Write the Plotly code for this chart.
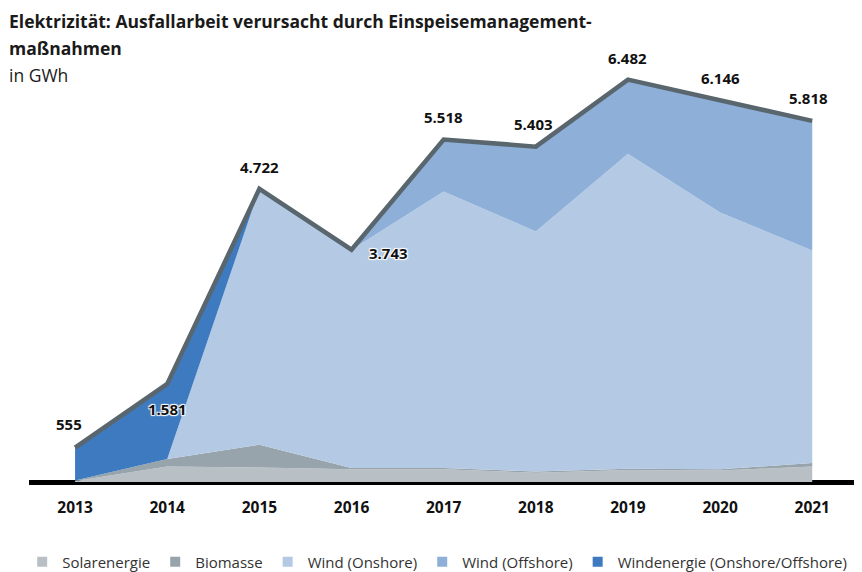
import plotly.graph_objects as go

years = [2013, 2014, 2015, 2016, 2017, 2018, 2019, 2020, 2021]
solar = [15, 250, 235, 205, 205, 150, 195, 185, 250]
biomasse = [10, 120, 365, 20, 20, 20, 20, 20, 55]
wind_onshore = [0, 0, 4122, 3518, 4457, 3867, 5074, 4138, 3426]
wind_offshore = [0, 0, 0, 0, 836, 1366, 1193, 1803, 2087]
wind_gesamt = [530, 1211, 0, 0, 0, 0, 0, 0, 0]
total = [555, 1581, 4722, 3743, 5518, 5403, 6482, 6146, 5818]

series = [
    ("Solarenergie", solar, "#b9c0c5"),
    ("Biomasse", biomasse, "#97a4ab"),
    ("Wind (Onshore)", wind_onshore, "#b4c9e3"),
    ("Wind (Offshore)", wind_offshore, "#8dafd8"),
    ("Windenergie (Onshore/Offshore)", wind_gesamt, "#3e7abf"),
]

# label offsets (x px, y px) relative to the point on the total line
label_offsets = [(-6, 24), (0, -25), (0, 22), (37, -3), (0, 22), (-2, 23), (0, 22), (0, 23), (-4, 23)]

W, H = 854, 564  # page body adds an 8px offset
T, B, L = 40, 90, 21
PH = H - T - B

fig = go.Figure()
for name, vals, col in series:
    fig.add_trace(go.Scatter(
        x=years, y=vals, name=name, mode="lines", stackgroup="one",
        line=dict(width=0, color=col), fillcolor=col, showlegend=False,
        hoverinfo="skip",
    ))
for name, vals, col in series:
    fig.add_trace(go.Scatter(
        x=[None], y=[None], name=name, mode="markers",
        marker=dict(symbol="square", size=10, color=col), showlegend=True,
    ))

fig.add_trace(go.Scatter(
    x=years, y=total, mode="lines", line=dict(color="#59666e", width=4.5),
    showlegend=False, hoverinfo="skip",
))

halo = "1px 1px 1px white, -1px -1px 1px white, 1px -1px 1px white, -1px 1px 1px white"
for yr, v, (dx, dy) in zip(years, total, label_offsets):
    fig.add_annotation(
        x=yr, y=v, text=f"{v:,}".replace(",", "."), showarrow=False,
        xshift=dx, yshift=dy,
        font=dict(family="Open Sans", size=15, color="#111111", weight="bold", shadow=halo),
    )

title_lines = [
    ("<b>Elektrizität: Ausfallarbeit verursacht durch Einspeisemanagement-</b>", 0),
    ("<b>maßnahmen</b>", 27),
    ("in GWh", 54),
]
for txt, ypx in title_lines:
    fig.add_annotation(
        xref="paper", yref="paper", x=-L / (W - L), y=1 + (T - ypx) / PH,
        xanchor="left", yanchor="top", text=txt, showarrow=False, align="left",
        borderpad=0,
        font=dict(family="Open Sans", size=17.5, color="#1a1a1a"),
    )

fig.update_layout(
    width=W, height=H,
    margin=dict(l=L, r=0, t=T, b=B, autoexpand=False),
    paper_bgcolor="white", plot_bgcolor="white",
    font=dict(family="Open Sans", color="#1a1a1a"),
    showlegend=True,
    legend=dict(orientation="h", x=0.49, xanchor="center",
                yref="container", y=1 - 554 / H, yanchor="middle",
                traceorder="normal",
                font=dict(size=15, color="#333333"), itemwidth=30, tracegroupgap=0),
    xaxis=dict(
        range=[2012.5, 2021.54], tickmode="array", tickvals=years,
        ticktext=[str(y) for y in years], showgrid=False, zeroline=False,
        showline=False, ticks="", ticklabelstandoff=14, automargin=False,
        tickfont=dict(size=15.5, family="Open Sans", weight="bold", color="#111111"),
    ),
    yaxis=dict(range=[0, 6992], showgrid=False, zeroline=True, zerolinecolor="#000000",
               zerolinewidth=5, showticklabels=False, ticks="", automargin=False),
)

fig.write_html("out.html")
